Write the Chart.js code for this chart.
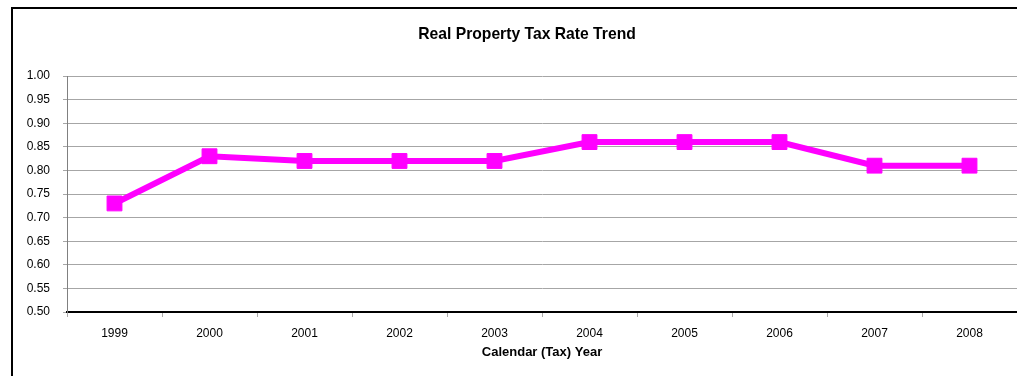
<!DOCTYPE html>
<html>
<head>
<meta charset="utf-8">
<script src="https://cdn.jsdelivr.net/npm/chart.js@4/dist/chart.umd.min.js"></script>
<style>
  html, body { margin: 0; padding: 0; background: #fff; overflow: hidden; }
  #frame {
    position: absolute; left: 11px; top: 7px;
    width: 1040px; height: 400px;
    border: 2px solid #000;
  }
  #wrap { position: absolute; left: 0; top: 0; width: 1030px; height: 380px; }
</style>
</head>
<body>
<div id="frame">
  <div id="wrap"><canvas id="myChart"></canvas></div>
</div>
<script>
const years = ['1999', '2000', '2001', '2002', '2003', '2004', '2005', '2006', '2007', '2008'];
const taxRates = [0.73, 0.83, 0.82, 0.82, 0.82, 0.86, 0.86, 0.86, 0.81, 0.81];
const yMin = 0.50;
const yMax = 1.00;
const yStep = 0.05;
const chartTitle = 'Real Property Tax Rate Trend';
const xTitle = 'Calendar (Tax) Year';

const FONT = "'Liberation Sans', Arial, sans-serif";

// title is drawn by hand so it can sit where the original puts it
const titlePlugin = {
    id: 'manualTitle',
    afterDraw(chart) {
        const ctx = chart.ctx;
        ctx.save();
        ctx.font = 'bold 15.7px ' + FONT;
        ctx.fillStyle = '#000';
        ctx.textAlign = 'center';
        ctx.textBaseline = 'middle';
        ctx.fillText(chartTitle, 514, 26);
        ctx.restore();
    }
};

const ctx = document.getElementById('myChart').getContext('2d');
const myChart = new Chart(ctx, {
    type: 'line',
    data: {
        labels: years,
        datasets: [{
            label: 'Tax Rate',
            data: taxRates,
            borderColor: '#FF00FF',
            backgroundColor: '#FF00FF',
            borderWidth: 6,
            pointStyle: 'rect',
            pointRadius: 10.5,
            pointBorderWidth: 1,
            pointBackgroundColor: '#FF00FF',
            pointBorderColor: '#FF00FF',
            tension: 0
        }]
    },
    options: {
        responsive: true,
        maintainAspectRatio: false,
        animation: false,
        layout: {
            padding: { left: 0, right: 26, top: 67, bottom: 0 }
        },
        scales: {
            x: {
                offset: true,
                grid: {
                    offset: true,
                    drawOnChartArea: false,
                    drawTicks: true,
                    tickLength: 5,
                    color: '#aaaaaa'
                },
                border: { color: '#000', width: 2 },
                ticks: {
                    padding: 9,
                    color: '#000',
                    font: { family: FONT, size: 12 }
                },
                title: {
                    display: true,
                    text: xTitle,
                    color: '#000',
                    font: { family: FONT, size: 13, weight: 'bold' },
                    padding: { top: 0, bottom: 29 }
                },
                afterFit: function(scale) { scale.height = 77; }
            },
            y: {
                min: yMin,
                max: yMax,
                grid: {
                    color: '#a6a6a6',
                    tickLength: 4
                },
                border: { color: '#808080', width: 1 },
                ticks: {
                    stepSize: yStep,
                    padding: 13,
                    color: '#000',
                    font: { family: FONT, size: 12 },
                    callback: function(value) { return value.toFixed(2); }
                },
                afterFit: function(scale) { scale.width = 54; }
            }
        },
        plugins: {
            legend: { display: false },
            title: { display: false },
            tooltip: { enabled: false }
        }
    },
    plugins: [titlePlugin]
});
</script>
</body>
</html>
